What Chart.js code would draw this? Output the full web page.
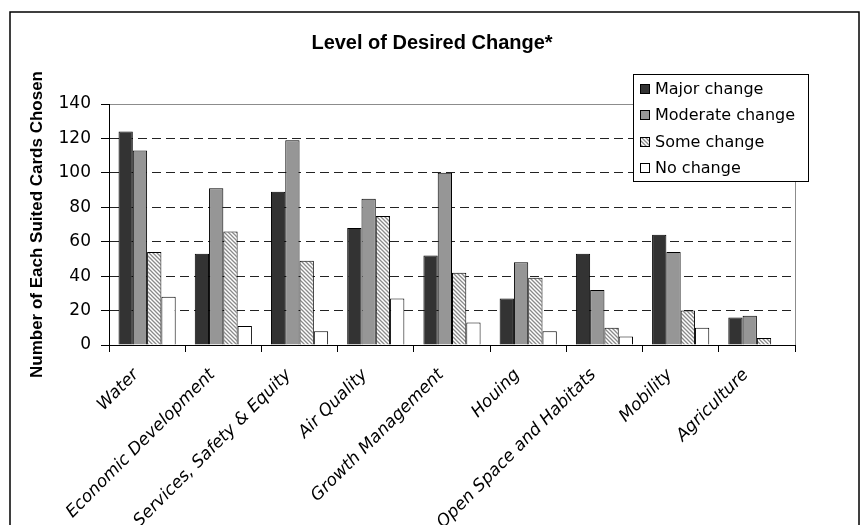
<!DOCTYPE html>
<html>
<head>
<meta charset="utf-8">
<script src="https://cdn.jsdelivr.net/npm/chart.js@4.4.1/dist/chart.umd.min.js"></script>
<style>
  html, body { margin: 0; padding: 0; background: #fff; overflow: hidden; }
  #wrap { width: 864px; height: 525px; }
</style>
</head>
<body>
<div id="wrap"><canvas id="chart" width="864" height="525"></canvas></div>
<script>
// Issue areas along the x axis
const categories = [
  'Water', 'Economic Development', 'Services, Safety & Equity', 'Air Quality',
  'Growth Management', 'Houing', 'Open Space and Habitats', 'Mobility', 'Agriculture'
];

// Number of cards chosen for each level of change
const majorChange    = [124, 53, 89, 68, 52, 27, 53, 64, 16];
const moderateChange = [113, 91, 119, 85, 100, 48, 32, 54, 17];
const someChange     = [54, 66, 49, 75, 42, 39, 10, 20, 4];
const noChange       = [28, 11, 8, 27, 13, 8, 5, 10, 0];

// Value axis tick labels
const yTickValues = [0, 20, 40, 60, 80, 100, 120, 140];

// Diagonal grey hatch used for "Some change"
function makeHatch() {
  const t = document.createElement('canvas');
  t.width = 4; t.height = 4;
  const g = t.getContext('2d');
  g.fillStyle = '#ffffff';
  g.fillRect(0, 0, 4, 4);
  g.strokeStyle = '#8a8a8a';
  g.lineWidth = 1.3;
  g.beginPath();
  g.moveTo(-1, -1); g.lineTo(5, 5);
  g.moveTo(-1, 3); g.lineTo(1, 5);
  g.moveTo(3, -1); g.lineTo(5, 1);
  g.stroke();
  return g.createPattern(t, 'repeat');
}
const hatch = makeHatch();

// Plot-area border, outer frame and the boxed legend
const decorations = {
  id: 'decorations',
  beforeDraw(chart) {
    const { ctx, chartArea: a } = chart;
    ctx.save();
    ctx.fillStyle = '#ffffff';
    ctx.fillRect(0, 0, chart.width, chart.height);
    ctx.strokeStyle = '#8c8c8c';
    ctx.lineWidth = 1;
    ctx.strokeRect(Math.round(a.left) + 0.5, Math.round(a.top) + 0.5,
                   Math.round(a.right - a.left), Math.round(a.bottom - a.top));
    ctx.restore();
  },
  afterDraw(chart) {
    const { ctx } = chart;
    ctx.save();
    // outer frame
    ctx.strokeStyle = '#000';
    ctx.lineWidth = 1.5;
    ctx.strokeRect(10, 12, 849, 530);

    // legend box
    const lx = 633, ly = 74, lw = 175, lh = 107;
    ctx.fillStyle = '#fff';
    ctx.fillRect(lx, ly, lw, lh);
    ctx.lineWidth = 1;
    ctx.strokeStyle = '#000';
    ctx.strokeRect(lx + 0.5, ly + 0.5, lw, lh);

    ctx.font = '16px "DejaVu Sans"';
    ctx.textBaseline = 'middle';
    ctx.textAlign = 'left';
    chart.data.datasets.forEach((ds, i) => {
      const cy = ly + 15 + i * 26.3;
      ctx.fillStyle = ds.backgroundColor;
      ctx.fillRect(lx + 7, Math.round(cy - 5), 10, 10);
      ctx.strokeStyle = '#000';
      ctx.strokeRect(lx + 7.5, Math.round(cy - 5) + 0.5, 9, 9);
      ctx.fillStyle = '#000';
      ctx.fillText(ds.label, lx + 22, cy + 1);
    });
    ctx.restore();
  }
};

const barStyle = { borderColor: '#000', borderWidth: 1, barPercentage: 1, categoryPercentage: 0.75 };

new Chart(document.getElementById('chart'), {
  type: 'bar',
  data: {
    labels: categories,
    datasets: [
      { label: 'Major change',    data: majorChange,    backgroundColor: '#333333', ...barStyle },
      { label: 'Moderate change', data: moderateChange, backgroundColor: '#969696', ...barStyle },
      { label: 'Some change',     data: someChange,     backgroundColor: hatch,     ...barStyle },
      { label: 'No change',       data: noChange,       backgroundColor: '#ffffff', ...barStyle }
    ]
  },
  options: {
    responsive: false,
    devicePixelRatio: 1,
    animation: false,
    layout: { padding: { left: 10, right: 10, top: 12, bottom: 0 } },
    plugins: {
      legend: { display: false },
      tooltip: { enabled: false },
      title: {
        display: true,
        text: 'Level of Desired Change*',
        color: '#000',
        font: { family: '"Liberation Sans", Arial, sans-serif', size: 20, weight: 'bold' },
        padding: { top: 19, bottom: 49 }
      }
    },
    scales: {
      x: {
        ticks: {
          color: '#000',
          font: { family: '"DejaVu Sans"', size: 17, style: 'italic' },
          maxRotation: 45, minRotation: 45, autoSkip: false,
          padding: 13, labelOffset: -11
        },
        grid: { offset: true, drawOnChartArea: false, tickLength: 7, tickColor: '#000' },
        border: { color: '#000', width: 1 },
        afterFit(s) { s.height = 180; }
      },
      y: {
        min: 0, max: 140,
        afterBuildTicks(s) { s.ticks = yTickValues.map(v => ({ value: v })); },
        ticks: {
          color: '#000',
          font: { family: '"DejaVu Sans"', size: 17 },
          padding: 10
        },
        grid: {
          color: c => (c.tick && (c.tick.value === 0 || c.tick.value === 140)) ? 'rgba(0,0,0,0)' : '#222',
          lineWidth: 1,
          tickColor: '#000',
          tickLength: 8,
          tickBorderDash: []
        },
        border: { color: '#000', width: 1, dash: [9, 5] },
        title: {
          display: true,
          text: 'Number of Each Suited Cards Chosen',
          color: '#000',
          font: { family: '"Liberation Sans", Arial, sans-serif', size: 17, weight: 'bold' },
          padding: { top: 17, bottom: 0 }
        },
        afterFit(s) { s.width = 99; }
      },
      yRight: {
        position: 'right',
        ticks: { display: false },
        grid: { display: false, drawTicks: false },
        border: { display: false },
        afterFit(s) { s.width = 59; }
      }
    }
  },
  plugins: [decorations]
});
</script>
</body>
</html>
